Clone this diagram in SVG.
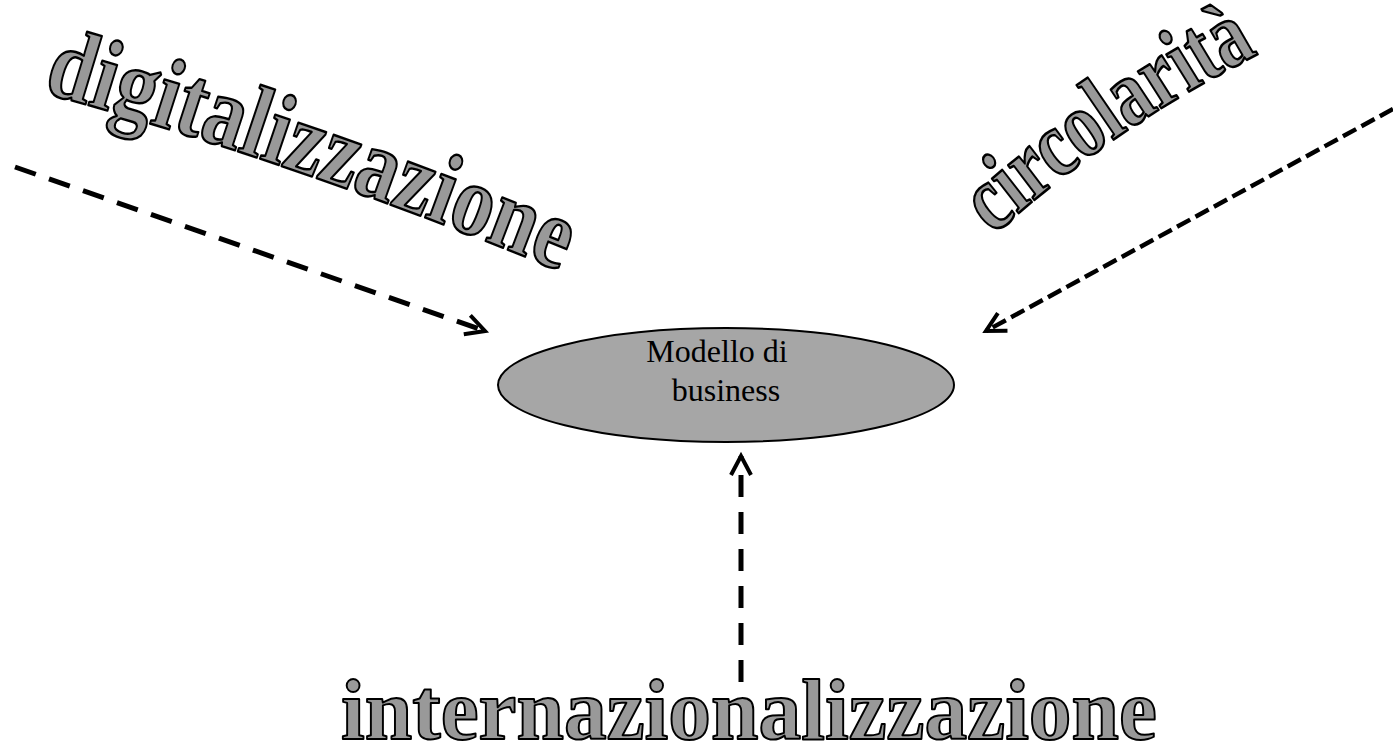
<svg xmlns="http://www.w3.org/2000/svg" xmlns:xlink="http://www.w3.org/1999/xlink" width="1393" height="748" viewBox="0 0 1393 748">
  <style>
    .art { font-family: "Liberation Serif", "Times New Roman", serif; font-weight: bold; fill: #999999; stroke: #000000; stroke-width: 2; stroke-linejoin: round; }
    .lbl { font-family: "Liberation Serif", "Times New Roman", serif; font-size: 32px; fill: #000000; }
    .conn { fill: none; stroke: #000000; }
  </style>
  <defs>
    <marker id="chev" markerUnits="userSpaceOnUse" viewBox="-4 -4 28 28" refX="19" refY="10" markerWidth="28" markerHeight="28" orient="auto" overflow="visible">
      <path d="M0,0 L19,10 L0,20" fill="none" stroke="#000000" stroke-width="4" stroke-linejoin="miter"/>
    </marker>
    <path id="digiPath" d="M0,0 Q275,-14 550,0"/>
    <path id="circPath" d="M0,0 Q163,-18 327,0"/>
  </defs>
  <rect width="1393" height="748" fill="#ffffff"/>

  <g id="connectors">
    <path class="conn" d="M15,167 L485,331" stroke-width="5" stroke-dasharray="22 14" marker-end="url(#chev)"/>
    <path class="conn" d="M1393,109 L986,331" stroke-width="4.5" stroke-dasharray="15 6" marker-end="url(#chev)"/>
    <path class="conn" d="M741,682 L741,456" stroke-width="5" stroke-dasharray="22 15" marker-end="url(#chev)"/>
  </g>

  <g id="node-modello">
    <ellipse cx="726" cy="385" rx="228" ry="57" fill="#a6a6a6" stroke="#000000" stroke-width="2"/>
    <text class="lbl" x="717" y="362" text-anchor="middle">Modello di</text>
    <text class="lbl" x="726" y="401" text-anchor="middle">business</text>
  </g>

  <g id="node-digitalizzazione" transform="translate(42,92) rotate(19.1) scale(1,1.22)">
    <text class="art" font-size="83"><textPath href="#digiPath" xlink:href="#digiPath">digitalizzazione</textPath></text>
  </g>

  <g id="node-circolarita" transform="translate(993,236) rotate(-34.3) scale(1,1.3)">
    <text class="art" font-size="73"><textPath href="#circPath" xlink:href="#circPath">circolarità</textPath></text>
  </g>

  <g id="node-internazionalizzazione">
    <text class="art" x="341" y="739" font-size="87" textLength="816" lengthAdjust="spacingAndGlyphs">internazionalizzazione</text>
  </g>
</svg>
